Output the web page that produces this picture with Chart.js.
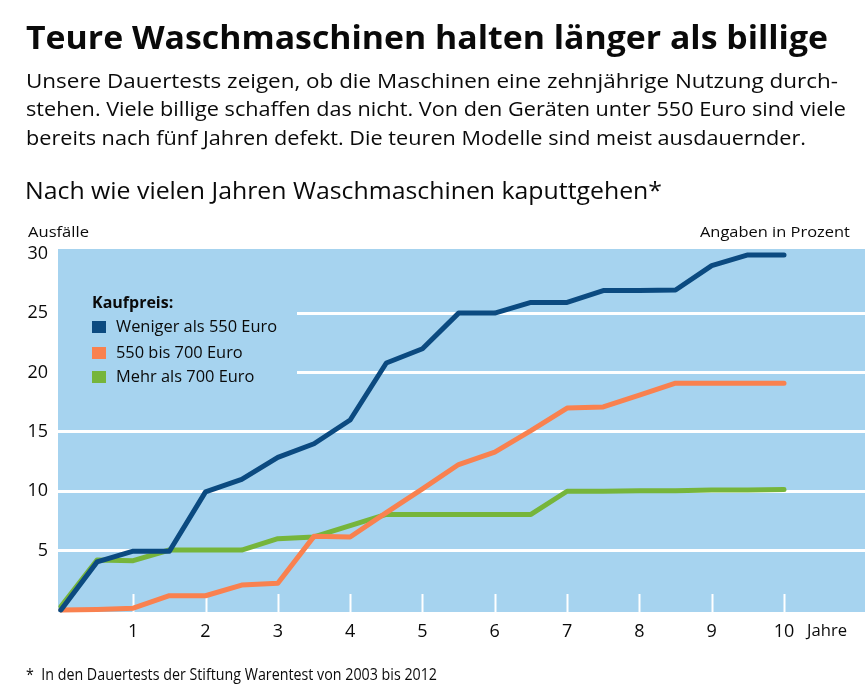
<!DOCTYPE html>
<html lang="de">
<head>
<meta charset="utf-8">
<title>Teure Waschmaschinen halten länger als billige</title>
<script src="https://cdn.jsdelivr.net/npm/chart.js@4.4.0/dist/chart.umd.min.js"></script>
<style>
  html, body { margin: 0; padding: 0; background: #fff; }
  body { width: 865px; height: 694px; position: relative; overflow: hidden;
         font-family: "Open Sans", "Noto Sans", sans-serif; color: #0a0a0a; }
  canvas { position: absolute; left: 0; top: 0; }
  .t { position: absolute; white-space: pre; line-height: 1.362; transform-origin: left center; }
  .r { transform-origin: right center; }
</style>
</head>
<body>
<canvas id="chart" width="865" height="694"></canvas>

<div class="t" style="left:26px; top:15px; font-size:32px; font-weight:700;" data-w="802">Teure Waschmaschinen halten länger als billige</div>
<div class="t" style="left:26px; top:67px; font-size:20px;" data-w="812">Unsere Dauertests zeigen, ob die Maschinen eine zehnjährige Nutzung durch-</div>
<div class="t" style="left:26px; top:95px; font-size:20px;" data-w="820">stehen. Viele billige schaffen das nicht. Von den Geräten unter 550 Euro sind viele</div>
<div class="t" style="left:26px; top:124px; font-size:20px;" data-w="780">bereits nach fünf Jahren defekt. Die teuren Modelle sind meist ausdauernder.</div>
<div class="t" style="left:25px; top:173px; font-size:24.5px;" data-w="637">Nach wie vielen Jahren Waschmaschinen kaputtgehen*</div>
<div class="t" style="left:28px; top:221px; font-size:15px;" data-w="61">Ausfälle</div>
<div class="t r" style="right:15px; top:221px; font-size:15px;" data-w="150">Angaben in Prozent</div>
<div class="t" style="left:807px; top:618px; font-size:17px;" data-w="40">Jahre</div>
<div class="t" style="left:26px; top:664px; font-size:15.5px;" data-w="411">*  In den Dauertests der Stiftung Warentest von 2003 bis 2012</div>

<script>
// Jahre (half-year steps)
const years = [0, 0.5, 1, 1.5, 2, 2.5, 3, 3.5, 4, 4.5, 5, 5.5, 6, 6.5, 7, 7.5, 8, 8.5, 9, 9.5, 10];

// Ausfälle in Prozent
const cheap  = [0, 4.05, 4.95, 4.95, 9.95, 11.0, 12.85, 14.0, 16.0, 20.8, 22.0, 25.0, 25.0, 25.9, 25.9, 26.9, 26.9, 26.95, 29.0, 29.9, 29.9];
const middle = [0, 0.05, 0.15, 1.2, 1.2, 2.1, 2.25, 6.2, 6.15, 8.2, 10.2, 12.25, 13.3, 15.1, 17.0, 17.1, 18.1, 19.1, 19.1, 19.1, 19.1];
const pricey = [0.3, 4.2, 4.15, 5.05, 5.05, 5.05, 6.0, 6.15, 7.1, 8.05, 8.05, 8.05, 8.05, 8.05, 10.0, 10.0, 10.05, 10.05, 10.1, 10.1, 10.15];

const seriesLabels = ['Weniger als 550 Euro', '550 bis 700 Euro', 'Mehr als 700 Euro'];
const legendTitle = 'Kaufpreis:';
const xTicks = [1, 2, 3, 4, 5, 6, 7, 8, 9, 10];
const yTicks = [5, 10, 15, 20, 25, 30];

const colors = {
  panel: '#a6d3ef',
  cheap: '#0b4a80',
  middle: '#f9814f',
  pricey: '#76b53b',
  text: '#0a0a0a',
}

const toPoints = values => values.map((v, i) => ({ x: years[i], y: v }))

const line = (label, values, color) => ({
  label,
  data: toPoints(values),
  borderColor: color,
  backgroundColor: color,
  borderWidth: 5,
  borderJoinStyle: 'round',
  borderCapStyle: 'round',
  pointRadius: 0,
  tension: 0,
  clip: false,
})

// blue panel behind the plot, legend and x tick marks inside it
const panelPlugin = {
  id: 'panel',
  beforeDraw(chart) {
    const { ctx, chartArea: a } = chart
    ctx.save()
    ctx.fillStyle = colors.panel
    ctx.fillRect(a.left, a.top, a.right - a.left, a.bottom - a.top)
    ctx.restore()
  },
  beforeDatasetsDraw(chart) {
    const { ctx, chartArea: a, scales } = chart
    ctx.save()

    // tick marks
    ctx.strokeStyle = '#ffffff'
    ctx.lineWidth = 2
    xTicks.forEach(v => {
      const px = Math.round(scales.x.getPixelForValue(v)) + 0.5
      ctx.beginPath()
      ctx.moveTo(px, a.bottom - 18)
      ctx.lineTo(px, a.bottom)
      ctx.stroke()
    })

    // legend box hides the grid lines behind it
    ctx.fillStyle = colors.panel
    ctx.fillRect(a.left, a.top + 40, 239, 103)

    ctx.textBaseline = 'middle'
    ctx.fillStyle = colors.text
    ctx.font = '700 16px "Open Sans"'
    ctx.fillText(legendTitle, 92, 303)

    ctx.font = '16.4px "Open Sans"'
    const rows = [327, 353, 377]
    chart.data.datasets.forEach((ds, i) => {
      ctx.fillStyle = ds.borderColor
      ctx.fillRect(92, rows[i] - 6, 14, 12)
      ctx.fillStyle = colors.text
      ctx.fillText(ds.label, 116, rows[i])
    })
    ctx.restore()
  },
}

const chart = new Chart(document.getElementById('chart'), {
  type: 'line',
  data: {
    datasets: [
      line(seriesLabels[0], cheap, colors.cheap),
      line(seriesLabels[1], middle, colors.middle),
      line(seriesLabels[2], pricey, colors.pricey),
    ],
  },
  options: {
    responsive: false,
    animation: false,
    events: [],
    layout: { padding: { top: 249, left: 0, right: 0, bottom: 0 } },
    plugins: { legend: { display: false }, tooltip: { enabled: false } },
    scales: {
      x: {
        type: 'linear',
        min: -0.04,
        max: 11.12,
        afterBuildTicks: scale => { scale.ticks = xTicks.map(value => ({ value })) },
        afterFit: scale => { scale.height = 82 },
        grid: { display: false, drawTicks: false },
        border: { display: false },
        ticks: { padding: 9, color: colors.text, font: { family: 'Open Sans', size: 18 } },
      },
      y: {
        min: -0.17,
        max: 30.4,
        afterBuildTicks: scale => { scale.ticks = yTicks.map(value => ({ value })) },
        afterFit: scale => { scale.width = 58 },
        grid: {
          drawTicks: false,
          lineWidth: 3,
          color: c => (c.tick && c.tick.value < 30 ? '#ffffff' : 'rgba(0,0,0,0)'),
        },
        border: { display: false },
        ticks: { padding: 10, color: colors.text, font: { family: 'Open Sans', size: 18 } },
      },
    },
  },
  plugins: [panelPlugin],
})

// squeeze the html texts to the widths of the original
document.querySelectorAll('.t[data-w]').forEach(el => {
  const w = el.getBoundingClientRect().width
  el.style.transform = `scaleX(${Number(el.dataset.w) / w})`
})
</script>
</body>
</html>
